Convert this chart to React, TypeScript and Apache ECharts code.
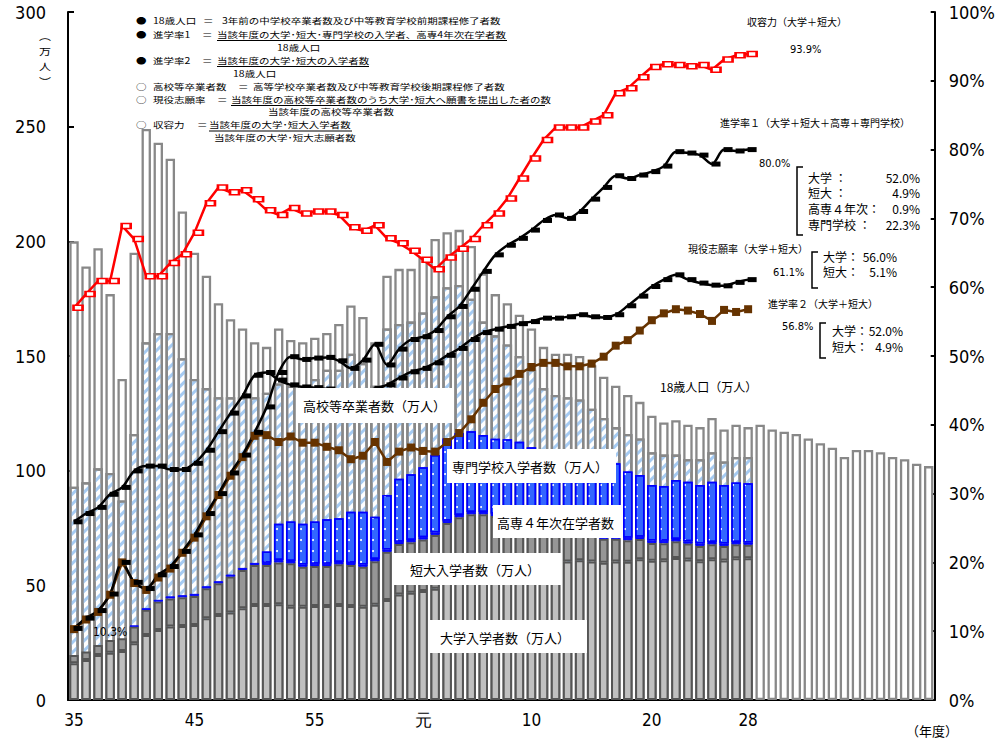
import React, { useEffect, useRef } from 'react';
import * as echarts from 'echarts';

// ---------- DATA ----------
const years: string[] = [
  '1960','1961','1962','1963','1964','1965','1966','1967','1968','1969',
  '1970','1971','1972','1973','1974','1975','1976','1977','1978','1979',
  '1980','1981','1982','1983','1984','1985','1986','1987','1988','1989',
  '1990','1991','1992','1993','1994','1995','1996','1997','1998','1999',
  '2000','2001','2002','2003','2004','2005','2006','2007','2008','2009',
  '2010','2011','2012','2013','2014','2015','2016','2017','2018','2019',
  '2020','2021','2022','2023','2024','2025','2026','2027','2028','2029',
  '2030','2031',
];
const tickIndex: number[] = [0, 10, 20, 29, 38, 48, 56];
const tickText: string[] = ['35', '45', '55', '元', '10', '20', '28'];

// 18歳人口 (万人) incl. projection
const pop18: number[] = [
  200, 189, 197, 177, 140, 195, 249, 243, 236, 213,
  195, 185, 173, 166, 162, 156, 154, 162, 157, 156,
  158, 160, 164, 172, 167, 156, 185, 188, 188, 193,
  201, 204, 205, 198, 186, 177, 173, 168, 162, 154,
  151, 151, 150, 146, 141, 137, 133, 130, 124, 121,
  122, 120, 119, 123, 118, 120, 119,
  120, 118, 117, 116, 114, 112, 110, 106, 109, 109, 108, 106, 105, 103, 102,
];
// 高校等卒業者数 (万人)
const hsGrad: number[] = [
  93, 95, 101, 99, 87, 116, 156, 160, 160, 149,
  140, 136, 132, 132, 132, 132, 134, 138, 137, 137,
  140, 144, 144, 151, 147, 137, 162, 164, 165, 169,
  176, 180, 181, 175, 165, 159, 155, 150, 144, 136,
  133, 132, 131, 127, 123, 119, 116, 114, 108, 107,
  107, 105, 105, 108, 104, 106, 106,
];
// 大学入学者数
const univ: number[] = [
  16.0, 17.4, 19.6, 20.6, 21.4, 24.7, 28.3, 30.5, 32.0, 32.3,
  32.7, 35.6, 37.1, 38.2, 40.0, 41.4, 41.4, 41.7, 40.7, 40.7,
  41.0, 41.0, 41.4, 41.0, 40.7, 41.5, 43.6, 46.0, 46.8, 47.5,
  48.5, 52.2, 54.2, 55.5, 56.0, 56.9, 57.9, 58.7, 59.0, 59.0,
  59.9, 60.4, 60.9, 60.4, 59.8, 60.4, 60.3, 61.4, 60.7, 60.9,
  61.9, 61.3, 60.5, 61.4, 60.8, 61.8, 61.8,
];
// 短大入学者数
const junior: number[] = [
  3.6, 3.7, 4.4, 5.6, 5.5, 7.3, 11.0, 12.4, 12.3, 12.5,
  12.7, 13.1, 13.8, 15.6, 16.7, 17.5, 17.5, 18.3, 18.9, 17.4,
  17.4, 17.4, 17.8, 17.9, 17.4, 19.0, 21.0, 22.0, 22.0, 22.5,
  23.5, 25.0, 25.5, 25.5, 25.0, 23.3, 22.0, 20.5, 19.0, 16.5,
  14.2, 13.0, 12.0, 11.5, 10.5, 9.9, 9.4, 8.8, 7.8, 7.5,
  7.3, 6.9, 6.7, 6.5, 6.4, 6.1, 5.9,
];
// 高専4年次在学者数
const kosen: number[] = [
  0, 0, 0, 0, 0, 0.5, 0.7, 0.8, 0.9, 0.9,
  0.9, 0.9, 0.9, 0.9, 0.9, 0.9, 1.0, 1.0, 1.0, 1.0,
  1.0, 1.0, 1.0, 1.0, 1.0, 1.0, 1.0, 1.0, 1.0, 1.0,
  1.0, 1.0, 1.0, 1.0, 1.0, 1.0, 1.0, 1.0, 1.0, 1.0,
  1.0, 1.0, 1.0, 1.0, 1.0, 1.0, 1.0, 1.0, 1.0, 1.0,
  1.0, 1.0, 1.0, 1.0, 1.0, 1.0, 1.0,
];
// 専門学校入学者数
const senmon: number[] = [
  0, 0, 0, 0, 0, 0, 0, 0, 0, 0,
  0, 0, 0, 0, 0, 0, 4.8, 15.8, 17.2, 17.7,
  18.4, 19.4, 19.0, 22.2, 23.0, 18.4, 23.8, 27.5, 28.6, 30.5,
  33.8, 35.8, 35.6, 35.2, 33.6, 32.7, 32.8, 32.4, 31.2, 32.0,
  33.4, 33.1, 33.1, 33.1, 33.7, 31.9, 28.9, 26.9, 24.3, 23.9,
  25.7, 26.0, 25.6, 26.3, 25.6, 25.9, 25.8,
];
// 収容力 (%)
const capacity: number[] = [
  57.0, 59.0, 60.9, 60.9, 68.9, 67.0, 61.6, 61.6, 63.5, 64.8,
  67.9, 72.2, 74.5, 73.8, 74.1, 72.8, 71.2, 70.5, 71.5, 70.7,
  71.0, 71.0, 70.5, 68.7, 68.2, 69.0, 67.1, 66.4, 65.3, 64.0,
  62.6, 64.3, 65.6, 67.0, 69.0, 70.7, 72.9, 75.8, 78.7, 81.4,
  83.2, 83.2, 83.2, 84.1, 85.0, 88.2, 88.9, 90.5, 92.0, 92.4,
  92.3, 92.1, 92.3, 91.6, 93.1, 93.7, 93.9,
];
// 進学率1 (%)
const rate1: number[] = [
  10.4, 11.9, 13.0, 15.4, 20.0, 17.1, 16.2, 18.2, 19.4, 21.6,
  24.0, 27.1, 30.0, 33.0, 35.6, 38.9, 42.6, 47.6, 49.9, 49.5,
  49.7, 49.8, 49.3, 48.2, 49.4, 51.7, 48.7, 51.0, 52.4, 52.8,
  53.7, 55.7, 57.2, 59.7, 62.3, 64.7, 66.1, 67.1, 68.3, 69.7,
  70.5, 70.0, 71.0, 72.8, 74.5, 76.2, 75.8, 76.3, 76.8, 77.6,
  79.7, 79.5, 79.2, 77.9, 80.0, 79.8, 80.0,
];
// 現役志願率 (%)
const applyRate: number[] = [
  25.9, 27.1, 28.0, 29.9, 30.9, 33.3, 34.0, 34.0, 33.5, 33.5,
  34.4, 36.3, 39.0, 41.7, 44.2, 47.2, 47.6, 46.5, 45.8, 45.5,
  45.4, 45.2, 44.8, 44.3, 44.6, 45.3, 45.8, 46.8, 47.7, 48.2,
  49.0, 50.1, 51.1, 52.4, 53.4, 53.9, 54.3, 54.7, 55.0, 55.5,
  55.5, 55.7, 56.0, 55.7, 55.6, 56.0, 57.3, 58.7, 60.1, 61.1,
  61.8, 61.1, 60.6, 60.3, 60.2, 60.7, 61.1,
];
// 進学率2 (%)
const rate2: number[] = [
  10.3, 11.7, 12.8, 15.3, 20.0, 17.0, 16.0, 17.8, 19.1, 21.4,
  23.6, 26.7, 29.8, 32.6, 35.3, 38.4, 38.5, 37.5, 38.3, 37.4,
  37.4, 36.8, 36.3, 35.0, 35.5, 37.5, 34.6, 36.1, 36.7, 36.2,
  36.1, 37.5, 38.8, 40.8, 43.2, 45.2, 46.3, 47.4, 48.4, 49.0,
  49.0, 48.5, 48.5, 48.9, 49.9, 51.5, 52.3, 53.7, 55.2, 56.2,
  56.8, 56.6, 56.1, 55.1, 56.7, 56.4, 56.8,
];

// ---------- STYLE ----------
const JP = '"Noto Sans CJK JP", "Noto Sans", sans-serif';
const NUM = '"Liberation Sans Narrow", "DejaVu Sans Condensed", "Liberation Sans", sans-serif';

const txt = (x: number, y: number, text: string, size: number, align = 'left', family = JP, lh?: number, sy = 1) => ({
  type: 'text', x, y, z: 100, scaleY: sy,
  style: {
    text, fill: '#000', font: `${size}px ${family}`, textAlign: align, textVerticalAlign: 'middle',
    lineHeight: lh ?? Math.round(size + 1),
  },
});
const ltxt = (x: number, y: number, text: string) => txt(x, y, text, 10.5, 'left', JP, 11, 0.8);
const box = (x: number, y: number, w: number, h: number) => ({
  type: 'rect', z: 99, shape: { x, y, width: w, height: h }, style: { fill: '#fff' },
});
const uline = (x1: number, x2: number, y: number) => ({
  type: 'line', z: 100, shape: { x1, y1: y, x2, y2: y }, style: { stroke: '#000', lineWidth: 1 },
});
const bracket = (x: number, y1: number, y2: number) => ({
  type: 'polyline', z: 100,
  shape: { points: [[x + 6, y1], [x, y1], [x, y2], [x + 6, y2]] },
  style: { stroke: '#000', lineWidth: 1.5, fill: null },
});

const legendRows = [
  { y: 20, b: '●', name: '18歳人口', eq: 203, body: '3年前の中学校卒業者数及び中等教育学校前期課程修了者数', bx: 222, ul: 0 },
  { y: 34, b: '●', name: '進学率1', eq: 202, body: '当該年度の大学･短大･専門学校の入学者、高専4年次在学者数', bx: 217, ul: 507 },
  { y: 60, b: '●', name: '進学率2', eq: 202, body: '当該年度の大学･短大の入学者数', bx: 217, ul: 369 },
  { y: 86, b: '○', name: '高校等卒業者数', eq: 238, body: '高等学校卒業者数及び中等教育学校後期課程修了者数', bx: 253, ul: 0 },
  { y: 99, b: '○', name: '現役志願率', eq: 217, body: '当該年度の高校等卒業者数のうち大学･短大へ願書を提出した者の数', bx: 231, ul: 545 },
  { y: 124.5, b: '○', name: '収容力', eq: 197, body: '当該年度の大学･短大入学者数', bx: 209, ul: 352 },
];

const graphics: any[] = [];
legendRows.forEach((r) => {
  graphics.push(ltxt(136, r.y, r.b));
  graphics.push(ltxt(153, r.y, r.name));
  graphics.push(ltxt(r.eq, r.y, '＝'));
  graphics.push(ltxt(r.bx, r.y, r.body));
  if (r.ul) graphics.push(uline(r.bx, r.ul, r.y + 6.5));
});
graphics.push(ltxt(277, 47, '18歳人口'));
graphics.push(ltxt(233, 73, '18歳人口'));
graphics.push(ltxt(268, 111.5, '当該年度の高校等卒業者数'));
graphics.push(ltxt(214, 137.5, '当該年度の大学･短大志願者数'));

// right annotations
graphics.push(txt(747, 21, '収容力（大学＋短大）', 10));
graphics.push(txt(790, 49, '93.9%', 11, 'left', NUM));
graphics.push(txt(720, 122, '進学率１（大学＋短大＋高専＋専門学校）', 10));
graphics.push(txt(759, 163, '80.0%', 11, 'left', NUM));
graphics.push(bracket(797, 167, 235));
[['大学 ：', '52.0%', 177], ['短大 ：', '4.9%', 192.5], ['高専４年次：', '0.9%', 208.5], ['専門学校 ：', '22.3%', 224]].forEach((r) => {
  graphics.push(txt(808, r[2] as number, r[0] as string, 12, 'left', JP, 12));
  graphics.push(txt(920, r[2] as number, r[1] as string, 12, 'right', JP, 12));
});
graphics.push(txt(688, 248, '現役志願率（大学＋短大）', 10));
graphics.push(txt(773, 272, '61.1%', 11, 'left', NUM));
graphics.push(bracket(812, 252, 288));
[['大学：', '56.0%', 256], ['短大：', '5.1%', 271.5]].forEach((r) => {
  graphics.push(txt(823, r[2] as number, r[0] as string, 12, 'left', JP, 12));
  graphics.push(txt(897, r[2] as number, r[1] as string, 12, 'right', JP, 12));
});
graphics.push(txt(768, 303, '進学率２（大学＋短大）', 10));
graphics.push(txt(782, 326, '56.8%', 11, 'left', NUM));
graphics.push(bracket(820, 323, 358));
[['大学：', '52.0%', 330], ['短大：', '4.9%', 346]].forEach((r) => {
  graphics.push(txt(832, r[2] as number, r[0] as string, 12, 'left', JP, 12));
  graphics.push(txt(903, r[2] as number, r[1] as string, 12, 'right', JP, 12));
});

// in-plot labels
graphics.push(box(298, 388, 155, 35), txt(303, 405.5, '高校等卒業者数（万人）', 13));
graphics.push(box(447, 449, 169, 34), txt(452, 466, '専門学校入学者数（万人）', 13));
graphics.push(box(493, 505, 129, 33), txt(497, 522, '高専４年次在学者数', 13));
graphics.push(box(393, 553, 168, 32), txt(410, 569, '短大入学者数（万人）', 13));
graphics.push(box(428, 620, 159, 33), txt(440, 637, '大学入学者数（万人）', 13));
graphics.push(txt(660, 386, '18歳人口（万人）', 12));
graphics.push(txt(93, 632, '10.3%', 12, 'left', NUM));

// axis titles (vertical)
[['︵', 36], ['万', 51], ['人', 66], ['︶', 81]].forEach((c) => {
  graphics.push(txt(45, c[1] as number, c[0] as string, 12, 'center', JP, 12, 0.78));
});
graphics.push(txt(932, 730, '（年度）', 13, 'center'));

const nz = (a: number[]) => a.map((v) => (v === 0 ? null : v));

const barBase = { type: 'bar', barWidth: 9.4, barGap: '-100%', yAxisIndex: 0, silent: true };

const option: any = {
  animation: false,
  backgroundColor: '#fff',
  grid: { left: 68, right: 59, top: 12, bottom: 39 },
  xAxis: {
    type: 'category',
    data: years,
    axisLine: { lineStyle: { color: '#000', width: 2 } },
    axisTick: { show: false },
    axisLabel: {
      interval: (i: number) => tickIndex.includes(i),
      formatter: (_v: string, i: number) => {
        const k = tickIndex.indexOf(i);
        return k >= 0 ? tickText[k] : '';
      },
      color: '#000', fontSize: 17, fontFamily: NUM, margin: 11,
    },
  },
  yAxis: [
    {
      type: 'value', min: 0, max: 300, interval: 50,
      axisLine: { show: true, lineStyle: { color: '#000', width: 2 } },
      axisTick: { show: true, inside: true, length: 6, lineStyle: { color: '#000', width: 2 } },
      splitLine: { show: false },
      axisLabel: { color: '#000', fontSize: 18, fontFamily: NUM, margin: 22 },
    },
    {
      type: 'value', min: 0, max: 100, interval: 10, position: 'right',
      axisLine: { show: true, lineStyle: { color: '#000', width: 2 } },
      axisTick: { show: true, inside: true, length: 4, lineStyle: { color: '#000', width: 2 } },
      splitLine: { show: false },
      axisLabel: { color: '#000', fontSize: 18, fontFamily: NUM, margin: 14, formatter: '{value}%' },
    },
  ],
  series: [
    { ...barBase, name: '18歳人口', data: pop18, itemStyle: { color: '#fff', borderColor: '#888888', borderWidth: 2.3 } },
    {
      ...barBase, name: '高校等卒業者数', data: hsGrad,
      itemStyle: {
        color: '#fff', borderColor: '#888888', borderWidth: 2.3,
        decal: { symbol: 'rect', symbolSize: 1, color: '#a6cbf2', dashArrayX: [1, 0], dashArrayY: [3, 4], rotation: -Math.PI / 4 },
      },
    },
    { ...barBase, name: '大学入学者数', stack: 'ent', data: univ, itemStyle: { color: '#c0c0c0', borderColor: '#555', borderWidth: 2 } },
    { ...barBase, name: '短大入学者数', stack: 'ent', data: junior, itemStyle: { color: '#969696', borderColor: '#555', borderWidth: 2 } },
    { ...barBase, name: '高専4年次在学者数', stack: 'ent', data: nz(kosen), itemStyle: { color: '#0000ff', borderColor: '#0000ff', borderWidth: 1 } },
    {
      ...barBase, name: '専門学校入学者数', stack: 'ent', data: nz(senmon),
      itemStyle: {
        color: '#3366ff', borderColor: '#0000ff', borderWidth: 1.5,
        decal: { symbol: 'circle', symbolSize: 1, color: '#ffffff', dashArrayX: [[2, 10]], dashArrayY: [2, 9] },
      },
    },
    {
      type: 'line', name: '収容力', yAxisIndex: 1, data: capacity, silent: true,
      symbol: 'emptyRect', symbolSize: [9, 5], symbolOffset: [4, 0],
      lineStyle: { color: '#ff0000', width: 2.5 }, itemStyle: { color: '#ff0000', borderWidth: 1.5 },
    },
    {
      type: 'line', name: '現役志願率', yAxisIndex: 1, data: applyRate, silent: true, smooth: 0.3,
      symbol: 'rect', symbolSize: [9, 5], symbolOffset: [4, 0],
      lineStyle: { color: '#000', width: 2.5 }, itemStyle: { color: '#000' },
    },
    {
      type: 'line', name: '進学率2', yAxisIndex: 1, data: rate2, silent: true,
      symbol: 'rect', symbolSize: 8,
      lineStyle: { color: '#663300', width: 2.5 }, itemStyle: { color: '#663300' },
    },
    {
      type: 'line', name: '進学率1', yAxisIndex: 1, data: rate1, silent: true, smooth: 0.3,
      symbol: 'rect', symbolSize: [9, 5], symbolOffset: [4, 0],
      lineStyle: { color: '#000', width: 2.5 }, itemStyle: { color: '#000' },
    },
  ],
  graphic: { elements: graphics },
};

export default function App() {
  const ref = useRef<HTMLDivElement>(null);
  useEffect(() => {
    const chart = echarts.init(ref.current!, null, { renderer: 'svg' });
    chart.setOption(option);
    return () => chart.dispose();
  }, []);
  return (
    <div
      ref={ref}
      style={{ position: 'absolute', left: 0, top: 0, width: 998, height: 739, background: '#fff' }}
    />
  );
}
